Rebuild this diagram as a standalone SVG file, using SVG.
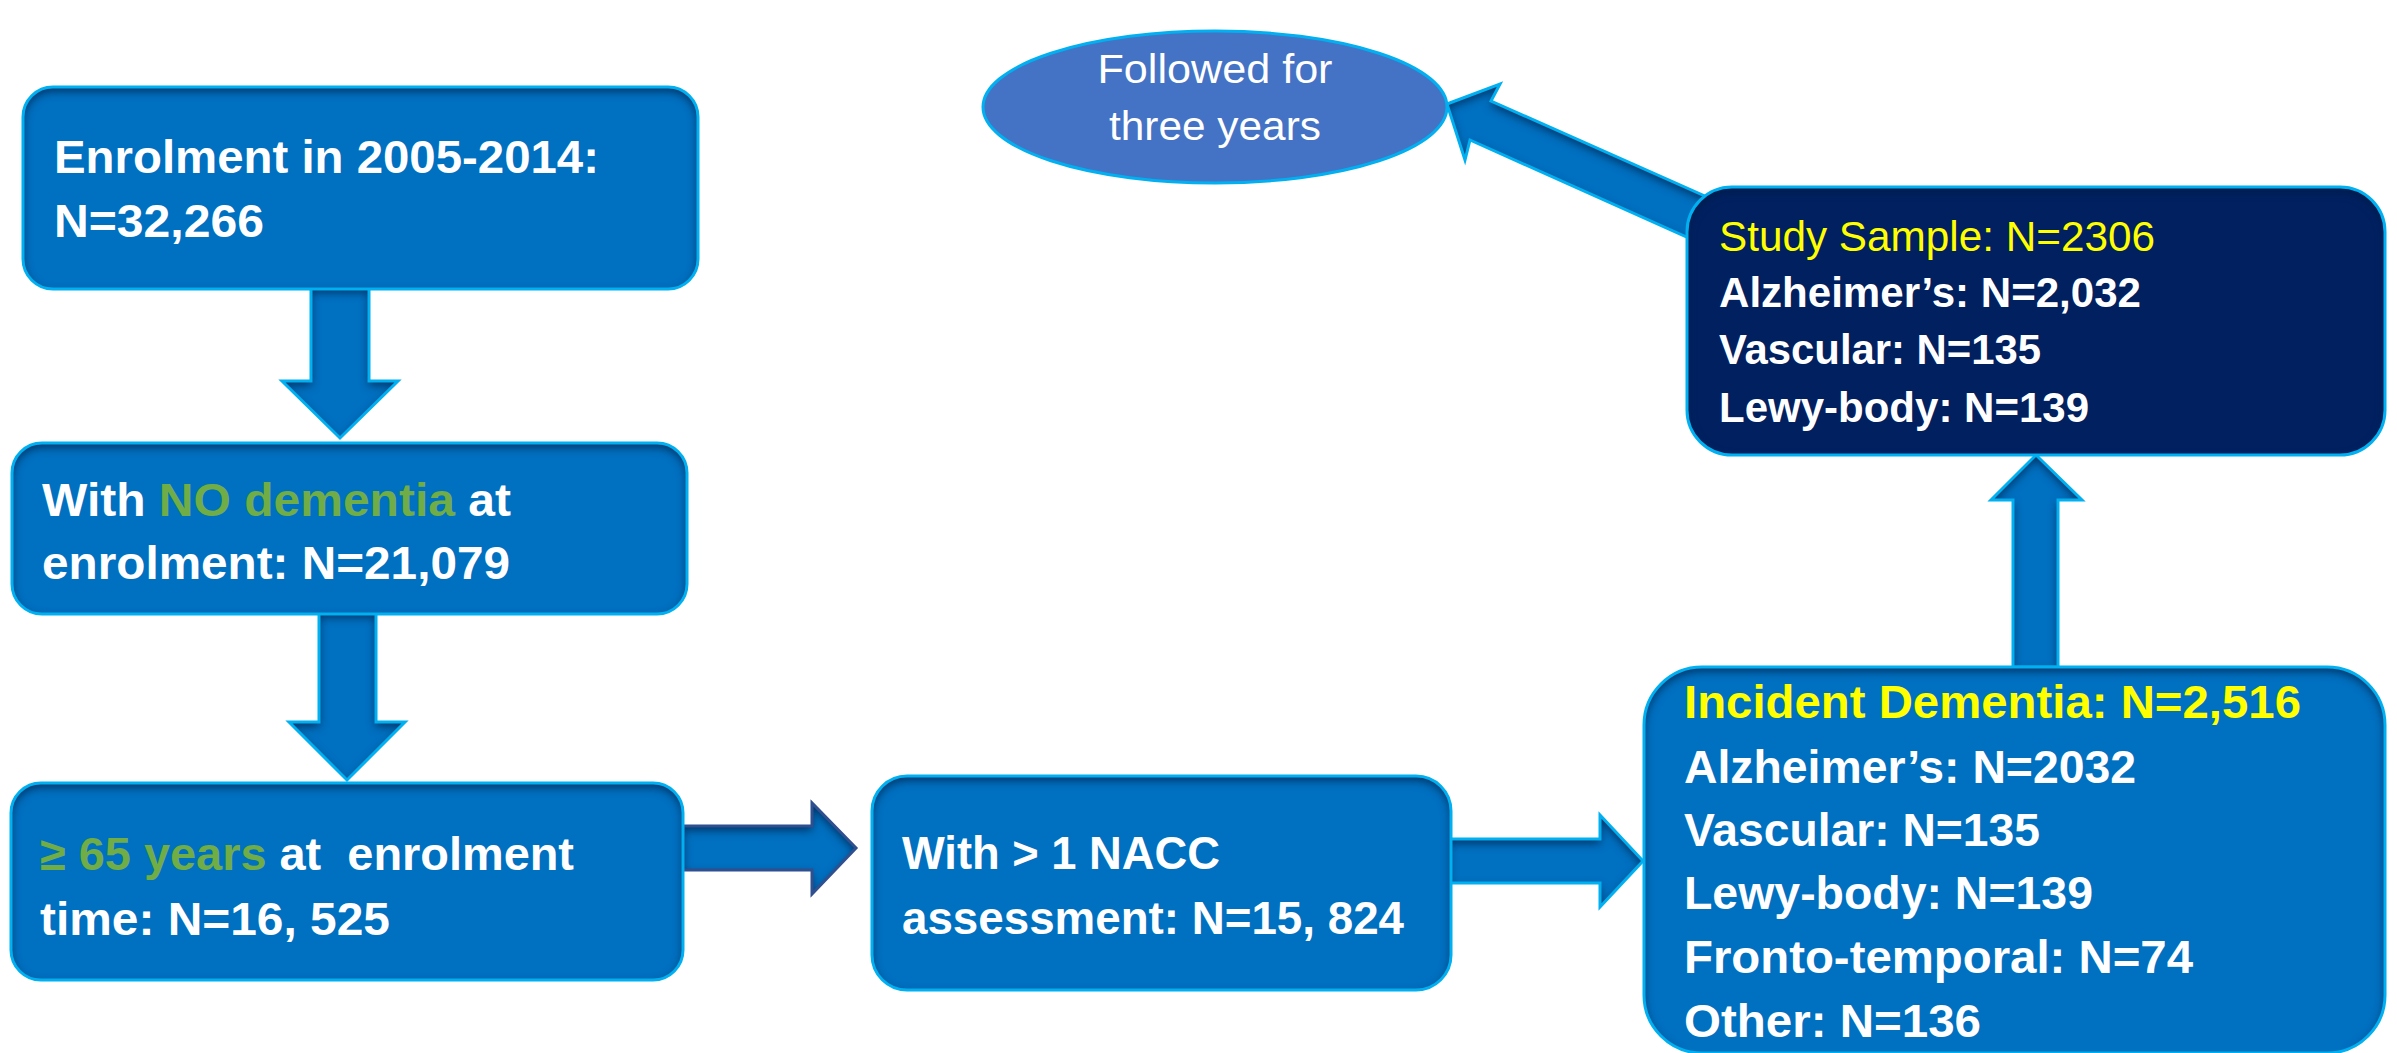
<svg xmlns="http://www.w3.org/2000/svg" width="2397" height="1053" viewBox="0 0 2397 1053">
<style>
.bg{fill:#ffffff}
.box{fill:#0070C0}
.navy{fill:#002060}
.edge{fill:none;stroke:#00B0F0;stroke-width:3;stroke-linejoin:miter}
.afill{fill:#0070C0}
.dedge{fill:none;stroke:#2F4F8F;stroke-width:3;stroke-linejoin:miter}
.t{font-family:"Liberation Sans",Arial,sans-serif;font-weight:bold;font-size:47px;fill:#ffffff}
.s{font-size:43px}
.r{font-weight:normal}
.g{fill:#70AD47}
.y{fill:#FFFF00}
.ell{fill:#4472C4;stroke:#00B0F0;stroke-width:3}
</style>
<defs>
<filter id="inset" filterUnits="userSpaceOnUse" x="0" y="0" width="2397" height="1053" color-interpolation-filters="sRGB">
  <feComponentTransfer in="SourceAlpha" result="inv">
    <feFuncA type="table" tableValues="1 0"/>
  </feComponentTransfer>
  <feOffset in="inv" dx="0" dy="4" result="off"/>
  <feGaussianBlur in="off" stdDeviation="5" result="blur"/>
  <feFlood flood-color="#001a40" flood-opacity="0.75" result="col"/>
  <feComposite in="col" in2="blur" operator="in" result="shadow"/>
  <feComposite in="shadow" in2="SourceAlpha" operator="in" result="inner"/>
  <feMerge><feMergeNode in="SourceGraphic"/><feMergeNode in="inner"/></feMerge>
</filter>
</defs>
<rect class="bg" x="0" y="0" width="2397" height="1053"/>

<g id="connectors">
  <g id="arrow-enrol-nodementia">
    <polygon class="afill" filter="url(#inset)" points="311,288 369,288 369,381 398,381 340,438 282,381 311,381"/>
    <polygon class="edge" points="311,288 369,288 369,381 398,381 340,438 282,381 311,381"/>
  </g>
  <g id="arrow-nodementia-age">
    <polygon class="afill" filter="url(#inset)" points="319,613 376,613 376,722 405,722 347,780 289,722 319,722"/>
    <polygon class="edge" points="319,613 376,613 376,722 405,722 347,780 289,722 319,722"/>
  </g>
  <g id="arrow-age-nacc">
    <polygon class="afill" filter="url(#inset)" points="683,826 812,826 812,803 856,848 812,894 812,870 683,870"/>
    <polygon class="dedge" points="683,826 812,826 812,803 856,848 812,894 812,870 683,870"/>
  </g>
  <g id="arrow-nacc-incident">
    <polygon class="afill" filter="url(#inset)" points="1449,839 1600,839 1600,815 1643,861 1600,907 1600,883 1449,883"/>
    <polygon class="edge" points="1449,839 1600,839 1600,815 1643,861 1600,907 1600,883 1449,883"/>
  </g>
  <g id="arrow-incident-study">
    <polygon class="afill" filter="url(#inset)" points="2013,667 2013,500 1991,500 2036,455 2082,500 2058,500 2058,667"/>
    <polygon class="edge" points="2013,667 2013,500 1991,500 2036,455 2082,500 2058,500 2058,667"/>
  </g>
  <g id="arrow-study-followed">
    <polygon class="afill" filter="url(#inset)" points="1447,104 1500,84 1491,101 1716,201 1700,243 1470,140 1465,160"/>
    <polygon class="edge" points="1447,104 1500,84 1491,101 1716,201 1700,243 1470,140 1465,160"/>
  </g>
</g>

<g id="node-enrolment">
  <rect class="box" filter="url(#inset)" x="23" y="87" width="675" height="202" rx="30"/>
  <rect class="edge" x="23" y="87" width="675" height="202" rx="30"/>
  <text class="t" x="54" y="173" textLength="545" lengthAdjust="spacingAndGlyphs">Enrolment in 2005-2014:</text>
  <text class="t" x="54" y="237" textLength="210" lengthAdjust="spacingAndGlyphs">N=32,266</text>
</g>

<g id="node-nodementia">
  <rect class="box" filter="url(#inset)" x="12" y="443" width="675" height="171" rx="30"/>
  <rect class="edge" x="12" y="443" width="675" height="171" rx="30"/>
  <text class="t" x="42" y="516" textLength="469" lengthAdjust="spacingAndGlyphs">With <tspan class="g">NO dementia</tspan> at</text>
  <text class="t" x="42" y="579" textLength="468" lengthAdjust="spacingAndGlyphs">enrolment: N=21,079</text>
</g>

<g id="node-age">
  <rect class="box" filter="url(#inset)" x="11" y="783" width="672" height="197" rx="30"/>
  <rect class="edge" x="11" y="783" width="672" height="197" rx="30"/>
  <text class="t" x="40" y="870" textLength="534" lengthAdjust="spacingAndGlyphs" xml:space="preserve"><tspan class="g">≥ 65 years</tspan> at  enrolment</text>
  <text class="t" x="40" y="935" textLength="350" lengthAdjust="spacingAndGlyphs">time: N=16, 525</text>
</g>

<g id="node-nacc">
  <rect class="box" filter="url(#inset)" x="872" y="776" width="579" height="214" rx="35"/>
  <rect class="edge" x="872" y="776" width="579" height="214" rx="35"/>
  <text class="t" x="902" y="869" textLength="318" lengthAdjust="spacingAndGlyphs">With &gt; 1 NACC</text>
  <text class="t" x="902" y="934" textLength="502" lengthAdjust="spacingAndGlyphs">assessment: N=15, 824</text>
</g>

<g id="node-incident">
  <rect class="box" filter="url(#inset)" x="1644" y="667" width="741" height="386" rx="58"/>
  <rect class="edge" x="1644" y="667" width="741" height="386" rx="58"/>
  <text class="t y" x="1684" y="718" textLength="617" lengthAdjust="spacingAndGlyphs">Incident Dementia: N=2,516</text>
  <text class="t" x="1684" y="783" textLength="452" lengthAdjust="spacingAndGlyphs">Alzheimer’s: N=2032</text>
  <text class="t" x="1684" y="846" textLength="356" lengthAdjust="spacingAndGlyphs">Vascular: N=135</text>
  <text class="t" x="1684" y="909" textLength="409" lengthAdjust="spacingAndGlyphs">Lewy-body: N=139</text>
  <text class="t" x="1684" y="973" textLength="509" lengthAdjust="spacingAndGlyphs">Fronto-temporal: N=74</text>
  <text class="t" x="1684" y="1037" textLength="297" lengthAdjust="spacingAndGlyphs">Other: N=136</text>
</g>

<g id="node-study">
  <rect class="navy" filter="url(#inset)" x="1687" y="187" width="698" height="268" rx="45"/>
  <rect class="edge" x="1687" y="187" width="698" height="268" rx="45"/>
  <text class="t s r y" x="1719" y="251" textLength="436" lengthAdjust="spacingAndGlyphs">Study Sample: N=2306</text>
  <text class="t s" x="1719" y="307" textLength="422" lengthAdjust="spacingAndGlyphs">Alzheimer’s: N=2,032</text>
  <text class="t s" x="1719" y="364" textLength="322" lengthAdjust="spacingAndGlyphs">Vascular: N=135</text>
  <text class="t s" x="1719" y="422" textLength="370" lengthAdjust="spacingAndGlyphs">Lewy-body: N=139</text>
</g>

<g id="node-followed">
  <ellipse class="ell" cx="1215" cy="107" rx="232" ry="76"/>
  <text class="t r" style="font-size:41px" x="1215" y="83" text-anchor="middle" textLength="235" lengthAdjust="spacingAndGlyphs">Followed for</text>
  <text class="t r" style="font-size:41px" x="1215" y="140" text-anchor="middle" textLength="212" lengthAdjust="spacingAndGlyphs">three years</text>
</g>
</svg>
